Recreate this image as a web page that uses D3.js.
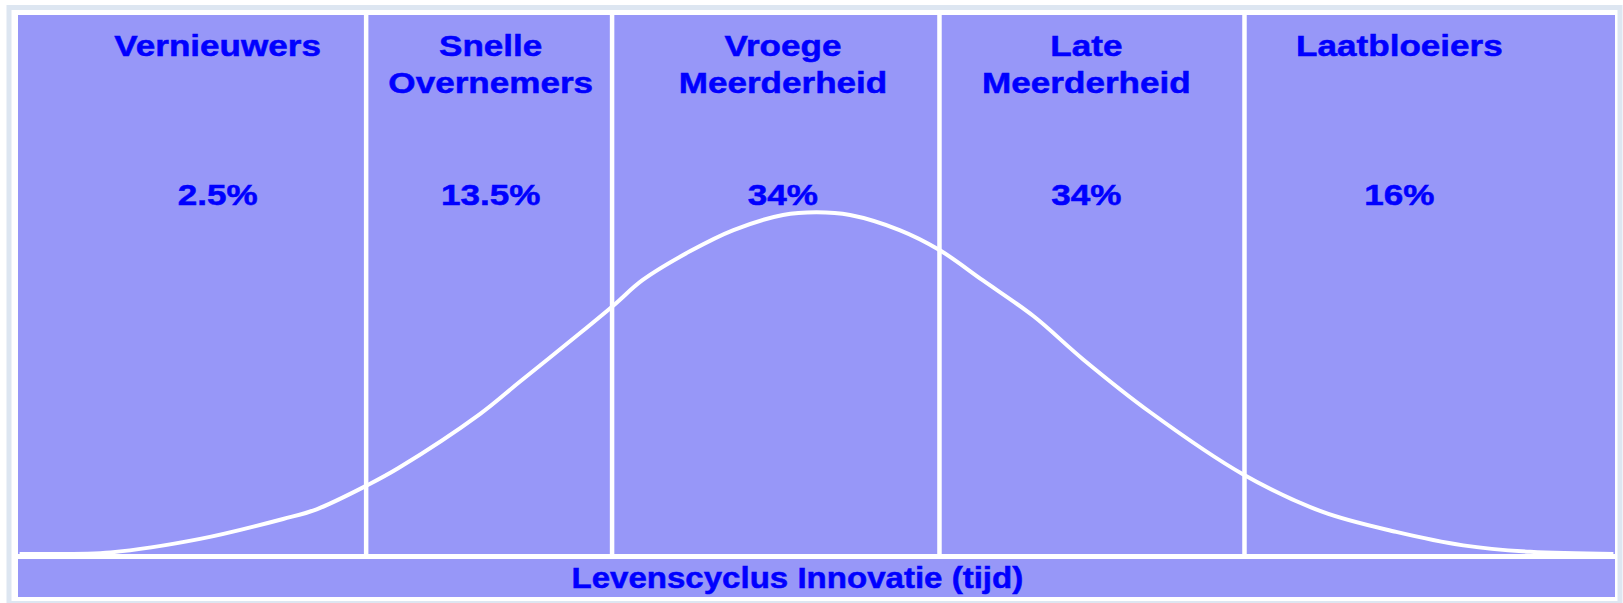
<!DOCTYPE html>
<html>
<head>
<meta charset="utf-8">
<script src="https://cdnjs.cloudflare.com/ajax/libs/d3/7.8.5/d3.min.js"></script>
<style>
  body { margin: 0; background: #ffffff; }
  text { font-family: "Liberation Sans", Arial, sans-serif; font-weight: bold; fill: #0000ff; stroke: #0000ff; stroke-width: 0.5px; }
</style>
</head>
<body>
<div id="container"></div>
<script>
// adopter groups (Rogers), label lines + share
let groupNames = [["Vernieuwers"], ["Snelle", "Overnemers"], ["Vroege", "Meerderheid"], ["Late", "Meerderheid"], ["Laatbloeiers"]];
let groupShares = ["2.5%", "13.5%", "34%", "34%", "16%"];
// time position (0-100) of the white dividers and of the label centres
let boundaries = [21.8, 37.2, 57.7, 76.8];
let labelPos = [12.5, 29.6, 47.9, 66.9, 86.5];
let axisTitle = "Levenscyclus Innovatie (tijd)";
let axisTitlePos = 48.8;

// bell curve: time (0-100) vs relative adoption (0-1)
let curveT = [0.1, 1.4, 5.8, 11.4, 16.6, 18.7, 21.9, 23.8, 28.9, 31.4, 35.2, 37.4, 39.1, 42.1, 44.8, 47.9, 50.0, 52.1, 55.2, 57.7, 60.4, 63.6, 66.7, 70.9, 76.7, 81.7, 86.3, 90.5, 94.7, 99.9];
let curveV = [0, 0, 0.003, 0.028, 0.065, 0.083, 0.128, 0.159, 0.259, 0.319, 0.410, 0.464, 0.508, 0.562, 0.601, 0.629, 0.634, 0.629, 0.601, 0.564, 0.508, 0.441, 0.361, 0.263, 0.148, 0.078, 0.041, 0.016, 0.004, 0];

let w = 1623;
let h = 603;
let fill = "#9797f8";

let viz = d3.select("#container")
  .append("svg")
    .attr("width", w)
    .attr("height", h)
;

let x = d3.scaleLinear().domain([0, 100]).range([18, 1615]);
let y = d3.scaleLinear().domain([0, 1]).range([554, 15]);

// outer frame
viz.append("rect")
    .attr("x", 9).attr("y", 7.5)
    .attr("width", w - 12).attr("height", h - 7)
    .attr("fill", "none")
    .attr("stroke", "#dde6f1")
    .attr("stroke-width", 5)
;

// main panel
viz.append("rect")
    .attr("x", x(0)).attr("y", y(1))
    .attr("width", x(100) - x(0)).attr("height", y(0) - y(1))
    .attr("fill", fill)
;

// bottom bar with the axis title
viz.append("rect")
    .attr("x", x(0)).attr("y", 559)
    .attr("width", x(100) - x(0)).attr("height", 38)
    .attr("fill", fill)
;

// dividers
viz.selectAll(".divider").data(boundaries).enter()
  .append("line")
    .attr("class", "divider")
    .attr("x1", d => x(d)).attr("x2", d => x(d))
    .attr("y1", y(1)).attr("y2", y(0))
    .attr("stroke", "#ffffff")
    .attr("stroke-width", 4.5)
;

// curve
let points = curveT.map((t, i) => [t, curveV[i]]);
let line = d3.line()
    .x(d => x(d[0]))
    .y(d => y(d[1]))
    .curve(d3.curveCatmullRom.alpha(0.5));

viz.append("path")
    .attr("d", line(points))
    .attr("fill", "none")
    .attr("stroke", "#ffffff")
    .attr("stroke-width", 4)
    .attr("stroke-linejoin", "round")
;

// group labels
let groups = viz.selectAll(".group").data(groupNames).enter()
  .append("g")
    .attr("class", "group")
    .attr("transform", (d, i) => "translate(" + x(labelPos[i]) + ",0)")
;

groups.selectAll(".name").data(d => d).enter()
  .append("text")
    .attr("class", "name")
    .attr("text-anchor", "middle")
    .attr("font-size", 29)
    .attr("transform", (d, i) => "translate(0," + (56 + i * 37) + ") scale(1.21,1)")
    .text(d => d)
;

groups.append("text")
    .attr("text-anchor", "middle")
    .attr("font-size", 29)
    .attr("transform", "translate(0,205) scale(1.21,1)")
    .text((d, i) => groupShares[i])
;

viz.append("text")
    .attr("text-anchor", "middle")
    .attr("font-size", 29)
    .attr("transform", "translate(" + x(axisTitlePos) + ",588) scale(1.14,1)")
    .text(axisTitle)
;
</script>
</body>
</html>
